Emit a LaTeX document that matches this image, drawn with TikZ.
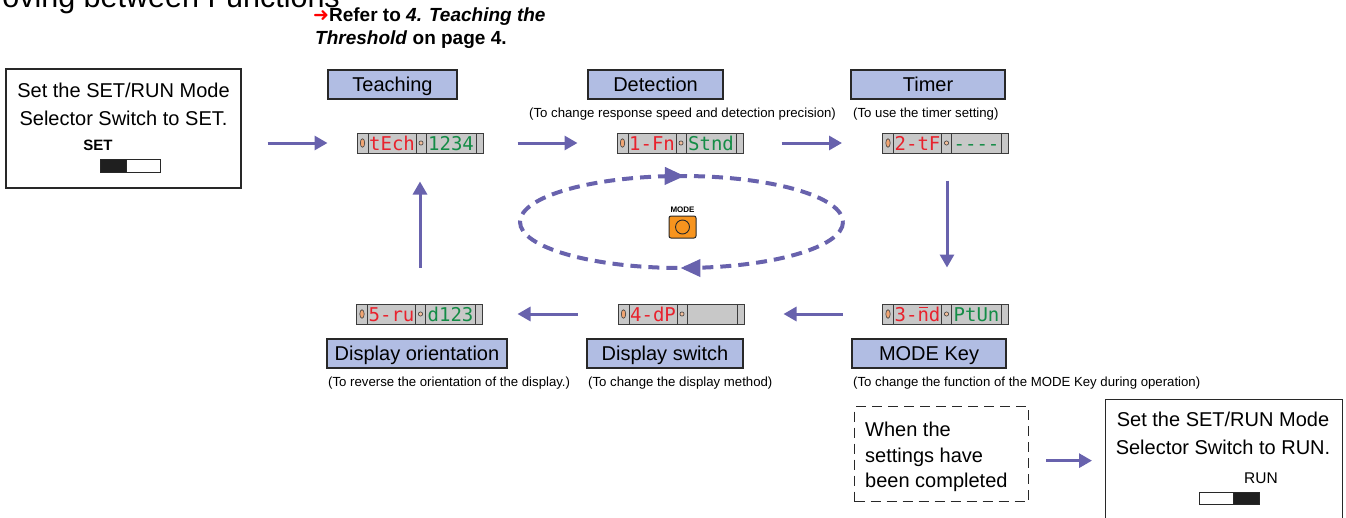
\documentclass[tikz,border=0pt]{standalone}
\usepackage{fontspec}
\setmainfont{Liberation Sans}
\newfontfamily\segfont{DejaVu Sans Mono}
\newfontfamily\symfont{DejaVu Sans}
\usetikzlibrary{arrows.meta,decorations.markings,calc}

\definecolor{flow}{RGB}{104,98,173}
\definecolor{hdr}{RGB}{177,189,227}
\definecolor{lcdbg}{RGB}{200,200,200}
\definecolor{lcdline}{RGB}{60,60,60}
\definecolor{segred}{RGB}{232,34,45}
\definecolor{seggreen}{RGB}{20,140,70}
\definecolor{keyorange}{RGB}{247,148,30}
\definecolor{ledorange}{RGB}{240,165,115}
\definecolor{frame}{RGB}{40,40,40}

\tikzset{
  flowarrow/.style={draw=flow, line width=3pt, -{Triangle[length=13pt,width=14pt]}},
  header/.style={draw=frame, fill=hdr, line width=1.3pt, minimum height=29pt,
    inner sep=1pt, text height=14.5pt, text depth=0pt, font=\fontsize{20}{24}\selectfont},
  caption/.style={anchor=west, inner sep=0pt, font=\fontsize{13.2}{15}\selectfont},
  bigtext/.style={anchor=base, inner sep=0pt, font=\fontsize{20}{24}\selectfont},
  leftline/.style={anchor=base west, inner sep=0pt, font=\fontsize{20}{24}\selectfont},
  panel/.style={draw=frame, line width=1.2pt, inner sep=0pt},
  segtext/.style={anchor=base, inner sep=0pt, font=\segfont\fontsize{19}{19}\selectfont},
  reftext/.style={anchor=base west, inner sep=0pt, font=\bfseries\fontsize{19}{22}\selectfont},
}

% n with the top segment lit (seven-segment "m")
\newcommand\segm{\rlap{\hspace{0.07em}\rule[0.66em]{0.46em}{0.07em}}n}

% seven-segment display: name, centre, red field, green field
\newcommand\lcdpanel[4]{%
  \node[draw=lcdline, fill=lcdbg, line width=1pt, minimum width=126pt,
        minimum height=20pt, inner sep=0pt] (#1) at #2 {};
  \begin{scope}[shift={#2}]
    \draw[lcdline, line width=1pt] (-52,-10) -- (-52,10) (-4,-10) -- (-4,10)
      (6,-10) -- (6,10) (56,-10) -- (56,10);
    \filldraw[fill=ledorange, draw=lcdline, line width=0.6pt] (-57.5,0) ellipse [x radius=2.2, y radius=4.3];
    \filldraw[fill=ledorange!70, draw=lcdline, line width=0.6pt] (1,0) circle [radius=2.1];
    \node[segtext, text=segred] (#1-red) at (-28,7) {#3};
    \node[segtext, text=seggreen] (#1-green) at (31,7) {#4};
  \end{scope}}

\begin{document}
\begin{tikzpicture}[x=1pt, y=-1pt]
  \useasboundingbox (0,0) rectangle (1346,517);
  \clip (0,0) rectangle (1346,517);

  % heading and cross reference
  \node[anchor=base east, inner sep=0pt, font=\fontsize{30.5}{30.5}\selectfont] (title) at (340,7) {Moving between Functions};
  \node[reftext] (ref1) at (313,21)
    {{\symfont\mdseries\color{red}➜}Refer to \textit{4. Teaching the}};
  \node[reftext] (ref2) at (315,44) {\textit{Threshold} on page 4.};

  % start: switch to SET
  \node[panel, minimum width=235pt, minimum height=119pt] (setbox) at (123.5,128.5) {};
  \node[bigtext] (set1) at (123.5,97) {Set the SET/RUN Mode};
  \node[bigtext] (set2) at (123.5,125) {Selector Switch to SET.};
  \node[anchor=base, inner sep=0pt, font=\bfseries\fontsize{15}{15}\selectfont] (setlbl) at (98,150) {SET};
  \filldraw[fill=white, draw=frame, line width=1pt] (100,159) rectangle (160,172);
  \filldraw[fill=black!88, draw=frame, line width=1pt] (100,159) rectangle (126,172);

  % function headers
  \node[header, minimum width=129pt] (h1) at (392.5,84.5) {Teaching};
  \node[header, minimum width=135pt] (h2) at (655.5,84.5) {Detection};
  \node[header, minimum width=154pt] (h3) at (928,84.5) {Timer};
  \node[header, minimum width=154pt] (h4) at (929,353.5) {MODE Key};
  \node[header, minimum width=156pt] (h5) at (665,353.5) {Display switch};
  \node[header, minimum width=180pt] (h6) at (417,353.5) {Display orientation};

  % captions
  \node[caption] (c2) at (529,114) {(To change response speed and detection precision)};
  \node[caption] (c3) at (853,114) {(To use the timer setting)};
  \node[caption] (c4) at (853,383) {(To change the function of the MODE Key during operation)};
  \node[caption] (c5) at (588,383) {(To change the display method)};
  \node[caption] (c6) at (328,383) {(To reverse the orientation of the display.)};

  % displays
  \lcdpanel{d1}{(420,143)}{tEch}{1234}
  \lcdpanel{d2}{(680,143)}{1-Fn}{Stnd}
  \lcdpanel{d3}{(945.5,143)}{2-tF}{----}
  \lcdpanel{d4}{(945.5,314)}{3-\segm d}{PtUn}
  \lcdpanel{d5}{(681,314)}{4-dP}{}
  \lcdpanel{d6}{(419.5,314)}{5-ru}{d123}

  % flow between the functions
  \draw[flowarrow, shorten <=26pt, shorten >=29pt] (setbox.east |- d1.west) -- (d1.west);
  \draw[flowarrow, shorten <=34pt, shorten >=39pt] (d1.east) -- (d2.west);
  \draw[flowarrow, shorten <=38pt, shorten >=40pt] (d2.east) -- (d3.west);
  \draw[flowarrow, shorten <=27pt, shorten >=36pt] ([xshift=1.5pt]d3.south) -- ([xshift=1.5pt]d4.north);
  \draw[flowarrow, shorten <=39.5pt, shorten >=39pt] (d4.west) -- (d5.east);
  \draw[flowarrow, shorten <=40pt, shorten >=34.5pt] (d5.west) -- (d6.east);
  \draw[flowarrow, shorten <=36pt, shorten >=28pt] ([xshift=0.5pt]d6.north) -- (d1.south);

  % MODE key cycle
  \coordinate (cyc) at (681.5,222);
  \draw[flow, line width=4pt, dash pattern=on 11pt off 7pt, postaction={decorate},
    decoration={markings,
      mark=at position 0.2515 with {\arrow[solid]{Triangle[length=20pt,width=17pt]}},
      mark=at position 0.7546 with {\arrow[solid]{Triangle[length=20pt,width=17pt]}}}]
    (cyc) ellipse [x radius=161.5, y radius=46];
  \node[inner sep=0pt, font=\bfseries\fontsize{8}{8}\selectfont] (modelbl) at (682.5,209.5) {MODE};
  \node[draw=frame, fill=keyorange, rounded corners=2pt, minimum width=27pt,
        minimum height=22pt, line width=1pt, inner sep=0pt] (modekey) at (682.5,227) {};
  \draw[frame, line width=0.9pt] (modekey.center) circle [radius=7];

  % end: switch to RUN
  \node[draw=frame, dash pattern=on 10pt off 6pt, line width=1.3pt, minimum width=174pt,
        minimum height=95pt, anchor=north west, inner sep=0pt] (done) at (854,406) {};
  \node[leftline] (done1) at (865,436) {When the};
  \node[leftline] (done2) at (865,462) {settings have};
  \node[leftline] (done3) at (865,487) {been completed};

  \node[panel, minimum width=237pt, minimum height=130pt, anchor=north west] (runbox) at (1105,399) {};
  \node[bigtext] (run1) at (1223,426) {Set the SET/RUN Mode};
  \node[bigtext] (run2) at (1223,454) {Selector Switch to RUN.};
  \node[anchor=base, inner sep=0pt, font=\fontsize{15.5}{15.5}\selectfont] (runlbl) at (1261,483) {RUN};
  \filldraw[fill=white, draw=frame, line width=1pt] (1199,492) rectangle (1259,504);
  \filldraw[fill=black!88, draw=frame, line width=1pt] (1233,492) rectangle (1259,504);

  \coordinate (donemid) at ([yshift=-6.5pt]done.east);
  \draw[flowarrow, shorten <=17pt, shorten >=13pt] (donemid) -- (donemid -| runbox.west);
\end{tikzpicture}
\end{document}
